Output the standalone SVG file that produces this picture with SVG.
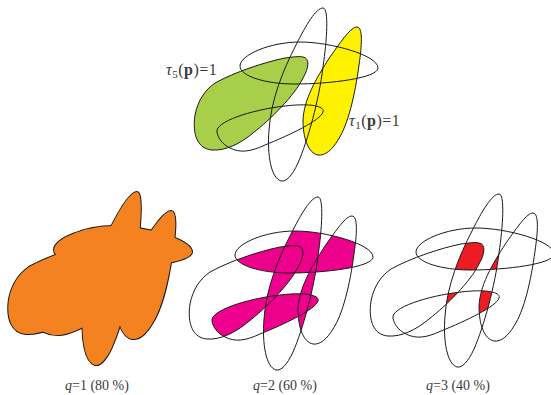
<svg xmlns="http://www.w3.org/2000/svg" xmlns:xlink="http://www.w3.org/1999/xlink" width="551" height="395" viewBox="0 0 551 395">
<style>
.ol{fill:none;stroke:#1a1a1a;stroke-width:1}
.lbl{font-family:"Liberation Serif",serif;font-size:14px;fill:#3a3a3a}
.tl{font-size:16px;letter-spacing:0.5px}
</style>
<defs>
<path id="A" d="M323,8 C329,8 327,40 323,67 C319,100 308,140 298,163 C292,176 286,182 281,181 C271,178 267,155 269,130 C271,100 283,70 296,45 C306,25 316,8 323,8 Z"/>
<path id="B" d="M240,66 C240,55 270,42 300,42 C330,42 378,55 378,68 C378,78 330,84 295,84 C265,84 240,76 240,66 Z"/>
<path id="C" d="M303,57 C310,58 309,68 303,78 C295,95 270,120 253,133 C240,144 225,151 212,150 C198,149 192,135 195,115 C198,100 205,90 215,83 C235,72 265,62 285,58 C293,57 299,56 303,57 Z"/>
<path id="D" d="M217,132 C215,122 250,110 285,106 C310,103 325,106 323,112 C321,120 290,135 265,145 C250,152 240,153 230,148 C222,144 218,138 217,132 Z"/>
<path id="E" d="M357,27 C363,27 362,45 359,65 C355,95 348,125 338,140 C332,150 325,156 318,155 C308,153 303,138 303,120 C304,100 315,80 330,57 C342,40 351,27 357,27 Z"/>
<clipPath id="cA"><use xlink:href="#A"/></clipPath>
<clipPath id="cB"><use xlink:href="#B"/></clipPath>
<clipPath id="cC"><use xlink:href="#C"/></clipPath>
<clipPath id="cD"><use xlink:href="#D"/></clipPath>
<clipPath id="cE"><use xlink:href="#E"/></clipPath>
<g id="outlines" class="ol">
<use xlink:href="#A"/><use xlink:href="#B"/><use xlink:href="#C"/><use xlink:href="#D"/><use xlink:href="#E"/>
</g>
</defs>

<g id="top">
<use xlink:href="#C" fill="#a8cf4a"/>
<use xlink:href="#E" fill="#fff200"/>
<use xlink:href="#outlines"/>
<text class="lbl tl" x="166" y="75"><tspan font-style="italic">τ</tspan><tspan font-size="11" dy="3">5</tspan><tspan dy="-3">(</tspan><tspan font-weight="bold">p</tspan>)=1</text>
<text class="lbl tl" x="349" y="126"><tspan font-style="italic">τ</tspan><tspan font-size="11" dy="3">1</tspan><tspan dy="-3">(</tspan><tspan font-weight="bold">p</tspan>)=1</text>
</g>

<g id="q1" transform="translate(-186,184)">
<g fill="#f58220" stroke="#1a1a1a" stroke-width="2">
<use xlink:href="#A"/><use xlink:href="#B"/><use xlink:href="#C"/><use xlink:href="#D"/><use xlink:href="#E"/>
</g>
<g fill="#f58220">
<use xlink:href="#A"/><use xlink:href="#B"/><use xlink:href="#C"/><use xlink:href="#D"/><use xlink:href="#E"/>
</g>
</g>

<g id="q2" transform="translate(-5,189)">
<g fill="#ec008c">
<use xlink:href="#A" clip-path="url(#cB)"/>
<use xlink:href="#A" clip-path="url(#cC)"/>
<use xlink:href="#A" clip-path="url(#cD)"/>
<use xlink:href="#A" clip-path="url(#cE)"/>
<use xlink:href="#B" clip-path="url(#cC)"/>
<use xlink:href="#B" clip-path="url(#cD)"/>
<use xlink:href="#B" clip-path="url(#cE)"/>
<use xlink:href="#C" clip-path="url(#cD)"/>
<use xlink:href="#C" clip-path="url(#cE)"/>
<use xlink:href="#D" clip-path="url(#cE)"/>
</g>
<use xlink:href="#outlines"/>
</g>

<g id="q3" transform="translate(176,186)">
<g fill="#ed1c24">
<g clip-path="url(#cC)"><use xlink:href="#A" clip-path="url(#cB)"/></g>
<g clip-path="url(#cD)"><use xlink:href="#A" clip-path="url(#cB)"/></g>
<g clip-path="url(#cE)"><use xlink:href="#A" clip-path="url(#cB)"/></g>
<g clip-path="url(#cD)"><use xlink:href="#A" clip-path="url(#cC)"/></g>
<g clip-path="url(#cE)"><use xlink:href="#A" clip-path="url(#cC)"/></g>
<g clip-path="url(#cE)"><use xlink:href="#A" clip-path="url(#cD)"/></g>
<g clip-path="url(#cD)"><use xlink:href="#B" clip-path="url(#cC)"/></g>
<g clip-path="url(#cE)"><use xlink:href="#B" clip-path="url(#cC)"/></g>
<g clip-path="url(#cE)"><use xlink:href="#B" clip-path="url(#cD)"/></g>
<g clip-path="url(#cE)"><use xlink:href="#C" clip-path="url(#cD)"/></g>
</g>
<use xlink:href="#outlines"/>
</g>

<g id="labels">
<text class="lbl" x="97" y="390" text-anchor="middle"><tspan font-style="italic">q</tspan>=1 (80 %)</text>
<text class="lbl" x="285" y="390" text-anchor="middle"><tspan font-style="italic">q</tspan>=2 (60 %)</text>
<text class="lbl" x="458" y="390" text-anchor="middle"><tspan font-style="italic">q</tspan>=3 (40 %)</text>
</g>
</svg>
